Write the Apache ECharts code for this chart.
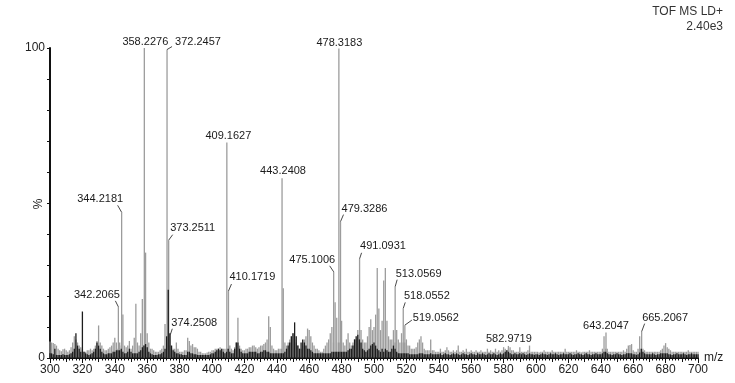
<!DOCTYPE html>
<html>
<head>
<meta charset="utf-8">
<script src="https://cdn.jsdelivr.net/npm/echarts@6/dist/echarts.min.js"></script>
<style>
  html, body { margin: 0; padding: 0; background: #fff; }
  #chart { width: 735px; height: 383px; }
</style>
</head>
<body>
<div id="chart"></div>
<script>
// m/z start of the 1-unit background arrays
const bgStart = 300

// grey (full) spectrum background, % intensity per unit m/z from 300
const grayInt = [
  5.3, 5, 4.8, 4.5, 4, 3, 2.5, 2.2, 2.8, 3, 2.5, 2, 2.5, 3.5, 5, 7, 6, 5, 4, 3.5,
  3, 2, 2, 2.5, 2.5, 3, 2.5, 3, 4, 5.5, 10.5, 5, 4, 3, 2.5, 2.5, 3, 3.5, 4, 5,
  6.5, 5, 3, 5, 4, 14, 4, 3.5, 4, 5.5, 3, 4, 6.5, 17.5, 5, 4, 8, 19, 4, 34,
  8, 5, 3, 3, 2.5, 2, 2, 2, 2.5, 3, 4, 11, 5, 6, 4, 4, 3, 3, 5, 3,
  2, 2, 2, 2.5, 2.5, 6.5, 5.5, 4, 4.5, 3.5, 3.5, 3, 2, 2, 1.5, 1.5, 1.5, 1.8, 2, 2,
  2.5, 2.5, 3, 3, 3, 3.5, 3, 3, 3, 3, 3, 4, 3, 2.5, 3.5, 5, 13, 4, 3, 2.5,
  2.5, 3, 3, 3.5, 3.5, 4, 4, 3.5, 3, 3.5, 4, 4, 4.5, 5, 6, 13.5, 10, 4, 3, 2.5,
  2.5, 3, 3, 3, 22.5, 5, 4, 5, 6, 7, 8, 6, 5, 4, 3, 3, 4, 6, 7, 9.5,
  9, 7, 5, 4, 3, 3, 2.5, 2, 2, 3, 4, 5, 6, 8, 10, 5, 18, 13, 5, 5,
  12, 5, 4, 6, 8, 5, 4, 5, 6, 6, 9, 5, 9, 6, 5, 5, 7, 10, 12.5, 9,
  10, 14, 29, 16, 9, 12, 25, 29, 12, 7, 6, 6, 9, 5, 9, 6, 5, 8, 5, 5,
  6, 4, 4, 3, 3, 3, 3.5, 5, 6, 7, 5, 3, 2.5, 2.5, 2.5, 6, 2.5, 2.5, 2, 2,
  2, 3, 2, 2, 2.5, 3.5, 2.5, 2, 2, 2.5, 2, 2.5, 4, 2, 2, 2.5, 2, 3, 2, 2,
  2.5, 2, 2, 2.5, 2, 2, 2.5, 2, 2, 2, 3, 2, 2.5, 2, 2, 3, 2, 2.5, 2, 2.5,
  3.5, 3, 2.5, 3, 3.5, 2.5, 2.5, 2, 2, 2, 3.5, 2, 2, 2, 2, 2.5, 4, 2, 2, 2,
  2, 2, 1.8, 2, 2, 2.5, 2, 2, 2, 2, 2.5, 2, 2, 2, 2, 2, 2, 2, 3, 2,
  2, 2, 2, 2, 2, 2.5, 2, 2, 1.8, 2, 2, 2, 2, 2.5, 2, 2, 2, 2, 2, 2,
  2, 3, 7, 3, 3, 2, 2, 2, 2, 2, 2, 2, 2, 2, 2.5, 2, 3, 4, 4.2, 4.5,
  2.5, 2, 2, 3, 7, 3, 3, 2.5, 2, 2, 2, 2, 2, 2, 2, 2, 2, 2.5, 3, 4,
  4.8, 3.5, 3, 2.5, 2, 2, 2, 2, 2, 2, 2, 2, 2, 2, 2.5, 2, 2, 2, 2, 2,
  2
]

// black (overlaid) spectrum, % intensity per unit m/z from 300
const blackInt = [
  1.5, 1.5, 1.2, 3, 1, 1, 1, 1, 1.2, 1, 1, 1, 1.2, 1.5, 2, 3, 8, 4, 3, 2,
  15, 2, 1.5, 1.2, 1, 1.2, 1.5, 2, 3, 5, 4, 3, 2, 1.5, 1.2, 1.2, 1.5, 1.5, 1.5, 2,
  2, 2.5, 2.5, 2.5, 3, 2, 1.5, 1.5, 2, 3, 2, 1.5, 1.5, 1.5, 1.5, 2, 2.5, 3.5, 4, 4.5,
  3.5, 2, 1.5, 1.2, 1, 1, 1, 1.2, 1.2, 1.5, 2, 3, 7, 22, 8, 4, 2.5, 2, 1.5, 1.5,
  1.2, 1.2, 1, 1, 1, 2, 2, 1.5, 1.5, 1.2, 1.2, 1, 1, 1, 1, 1, 1, 1, 1, 1.2,
  1.5, 1.5, 2, 2.5, 3, 2.5, 3, 2, 1.5, 2, 3, 2, 1.5, 1.5, 3, 5, 5, 3, 2, 1.5,
  1.5, 1.5, 1.5, 2, 2, 2, 2, 2, 1.5, 1.5, 2, 2, 2.5, 2.5, 2, 2, 1.5, 1.5, 1.5, 1.5,
  1.5, 1.5, 1.5, 1.5, 1.5, 2, 3, 4, 5, 7, 8, 11.5, 7, 4, 3, 5, 6, 5, 4, 3,
  3, 2.5, 2, 1.5, 1.5, 1.5, 1.5, 1.5, 1.5, 1.5, 1.5, 1.5, 1.5, 1.5, 2, 2, 2, 2, 2, 2,
  2, 2, 2, 2, 2.5, 3, 3, 4, 6, 7, 7.5, 6, 5, 3, 2.5, 2, 2.5, 3, 4, 4.5,
  5, 4, 3, 2.5, 2, 3, 2, 3, 2.5, 2, 2, 3, 4, 3, 2, 1.5, 1.5, 1.5, 1.5, 1.5,
  1.5, 1.5, 1.2, 1.2, 1.2, 1.2, 1.2, 1.2, 1.5, 1.5, 1.5, 1.2, 1.2, 1.2, 1.2, 1.5, 1.2, 1.2, 1.2, 1.2,
  1.2, 1.5, 1, 1.2, 1.5, 1.2, 1.2, 1, 1.2, 1.5, 1.2, 1.5, 1.2, 1, 1.2, 1.5, 1.2, 1.2, 1, 1.2,
  1.5, 1.2, 1.2, 1, 1.5, 1.2, 1.2, 1.5, 1.2, 1, 1.2, 1.5, 1.2, 1.2, 1.5, 1.2, 1, 1.2, 1.5, 1.2,
  1.5, 2, 2.5, 2, 1.5, 1.2, 1.2, 1.5, 1.2, 1.2, 1.5, 1.2, 1.5, 1.2, 1, 1.2, 1.5, 1.2, 1.2, 1,
  1.2, 1.2, 1, 1.2, 1.5, 1.2, 1.2, 1, 1.2, 1.5, 1.2, 1.2, 1.5, 1.2, 1, 1.2, 1.2, 1.5, 1.2, 1.2,
  1.2, 1.5, 1.2, 1, 1.2, 1.2, 1.5, 1.2, 1.2, 1, 1.2, 1.5, 1.2, 1.2, 1, 1.2, 1.2, 1.5, 1.2, 1.2,
  1.2, 1.5, 2, 2, 1.5, 1.2, 1.2, 1, 1.2, 1.2, 1.5, 1.2, 1.2, 1, 1.2, 1.2, 1.5, 1.5, 1.5, 1.5,
  1.2, 1.2, 1, 1.2, 1.8, 3, 2, 1.5, 1.2, 1.2, 1.2, 1.2, 1.5, 1.2, 1, 1.2, 1.2, 1.5, 1.5, 1.5,
  1.5, 1.5, 1.2, 1.2, 1, 1.2, 1.2, 1.5, 1.2, 1.2, 1.2, 1.5, 1.2, 1, 1.2, 1.2, 1.5, 1.2, 1.2, 1.2,
  1.2
]

// labelled peaks
const peakMz = [342.2065, 344.2181, 358.2276, 372.2457, 373.2511, 374.2508, 409.1627, 410.1719,
  443.2408, 475.1006, 478.3183, 479.3286, 491.0931, 513.0569, 518.0552, 519.0562,
  582.9719, 643.2047, 665.2067]
const peakInt = [16.5, 47, 100, 99.5, 38, 7.5, 69.5, 21.6,
  58, 27.8, 99.8, 44, 32, 23, 16, 10.6,
  3.9, 8.2, 8.5]
const peakLabels = peakMz.map(v => v.toFixed(4))

const yTicks = [0, 100]
const headerText = ['TOF MS LD+', '2.40e3']

// label placement: [align, dx, dy, leaderDx, leaderDy] relative to the peak top
const labelPos = {
  '342.2065': ['right', 1.5, -12, -3, -6],
  '344.2181': ['right', 1.5, -13, -4, -7],
  '358.2276': ['center', 1, -6],
  '372.2457': ['left', 8, -8, 5, -3],
  '373.2511': ['left', 1.5, -12.5, 4, -5.5],
  '374.2508': ['left', 1, -12, 2, -6],
  '409.1627': ['center', 1.5, -7],
  '410.1719': ['left', 1, -14, 3, -7],
  '443.2408': ['center', 1, -7],
  '475.1006': ['right', 1.5, -12, -4, -6],
  '478.3183': ['center', 0.5, -6],
  '479.3286': ['left', 1, -13, 3, -7],
  '491.0931': ['left', 0.5, -12.5, 2, -6],
  '513.0569': ['left', 0.5, -13, 2, -7],
  '518.0552': ['left', 0.7, -12, 2, -6],
  '519.0562': ['left', 8, -7, 7, -5],
  '582.9719': ['center', 0.5, -7],
  '643.2047': ['center', 0, -7],
  '665.2067': ['left', 0.5, -14, 3, -8]
}

const FONT = 'Liberation Sans, Arial, sans-serif'
const GRAY = '#9c9c9c'
const BLACK = '#1c1c1c'

function stick(color, w) {
  return (params, api) => {
    const p0 = api.coord([api.value(0), 0])
    const p1 = api.coord([api.value(0), api.value(1)])
    return {
      type: 'line',
      shape: { x1: p0[0], y1: p0[1], x2: p1[0], y2: p1[1] },
      style: { stroke: color, lineWidth: w }
    }
  }
}

function peakItem(params, api) {
  const p0 = api.coord([api.value(0), 0])
  const p1 = api.coord([api.value(0), api.value(1)])
  const txt = peakLabels[params.dataIndex]
  const lp = labelPos[txt]
  const children = [{
    type: 'line',
    shape: { x1: p0[0], y1: p0[1], x2: p1[0], y2: p1[1] },
    style: { stroke: GRAY, lineWidth: 1.3 }
  }]
  if (lp.length > 3) {
    children.push({
      type: 'line',
      shape: { x1: p1[0], y1: p1[1], x2: p1[0] + lp[3], y2: p1[1] + lp[4] },
      style: { stroke: '#333', lineWidth: 0.9 }
    })
  }
  children.push({
    type: 'text',
    x: p1[0] + lp[1],
    y: p1[1] + lp[2],
    style: {
      text: txt, fill: '#1a1a1a', font: '11px ' + FONT,
      align: lp[0], verticalAlign: 'middle',
      textAlign: lp[0], textVerticalAlign: 'middle'
    }
  })
  return { type: 'group', children: children }
}

const grayData = grayInt.map((v, i) => [bgStart + i, v])
const blackData = blackInt.map((v, i) => [bgStart + i, v])
const peakData = peakMz.map((m, i) => [m, peakInt[i]])

const chart = echarts.init(document.getElementById('chart'))
chart.setOption({
  animation: false,
  backgroundColor: '#fff',
  grid: { left: 50, right: 37, top: 48, bottom: 25, outerBoundsMode: 'none', containLabel: false },
  graphic: [
    { type: 'text', right: 12, top: 6, style: { text: headerText[0], fill: '#333', font: '12px ' + FONT } },
    { type: 'text', right: 12, top: 21, style: { text: headerText[1], fill: '#333', font: '12px ' + FONT } },
    { type: 'text', x: 39, y: 204, rotation: Math.PI / 2,
      style: { text: '%', fill: '#222', font: '12px ' + FONT, align: 'center', verticalAlign: 'middle' } }
  ],
  xAxis: [{
    type: 'value', min: 300, max: 700, interval: 20,
    name: 'm/z', nameLocation: 'end', nameGap: 6,
    nameTextStyle: { color: '#222', fontSize: 12, fontFamily: FONT, verticalAlign: 'middle', padding: [4, 0, 0, 0] },
    axisLine: { show: true, lineStyle: { color: '#111', width: 2 } },
    axisTick: { show: true, length: 5, lineStyle: { color: '#111', width: 1 } },
    minorTick: { show: true, splitNumber: 10, length: 2.5, lineStyle: { color: '#111', width: 1 } },
    axisLabel: { color: '#222', fontSize: 12, fontFamily: FONT, margin: 6 },
    splitLine: { show: false }
  }, {
    type: 'value', min: 300, max: 700, interval: 10, position: 'bottom',
    axisLine: { show: false },
    axisTick: { show: true, length: 4, lineStyle: { color: '#111', width: 1 } },
    axisLabel: { show: false },
    splitLine: { show: false }
  }],
  yAxis: {
    type: 'value', min: 0, max: 100, interval: 10,
    axisLine: { show: true, lineStyle: { color: '#111', width: 2 } },
    axisTick: { show: true, length: 3, lineStyle: { color: '#111', width: 1 } },
    axisLabel: {
      color: '#222', fontSize: 12, fontFamily: FONT, margin: 5,
      formatter: v => (yTicks.indexOf(v) >= 0 ? String(v) : '')
    },
    splitLine: { show: false }
  },
  series: [
    { type: 'custom', name: 'full', renderItem: stick(GRAY, 1.3), data: grayData, encode: { x: 0, y: 1 }, z: 2 },
    { type: 'custom', name: 'peaks', renderItem: peakItem, data: peakData, encode: { x: 0, y: 1 }, z: 3, clip: false },
    { type: 'custom', name: 'overlay', renderItem: stick(BLACK, 1.3), data: blackData, encode: { x: 0, y: 1 }, z: 4 }
  ]
})
</script>
</body>
</html>
